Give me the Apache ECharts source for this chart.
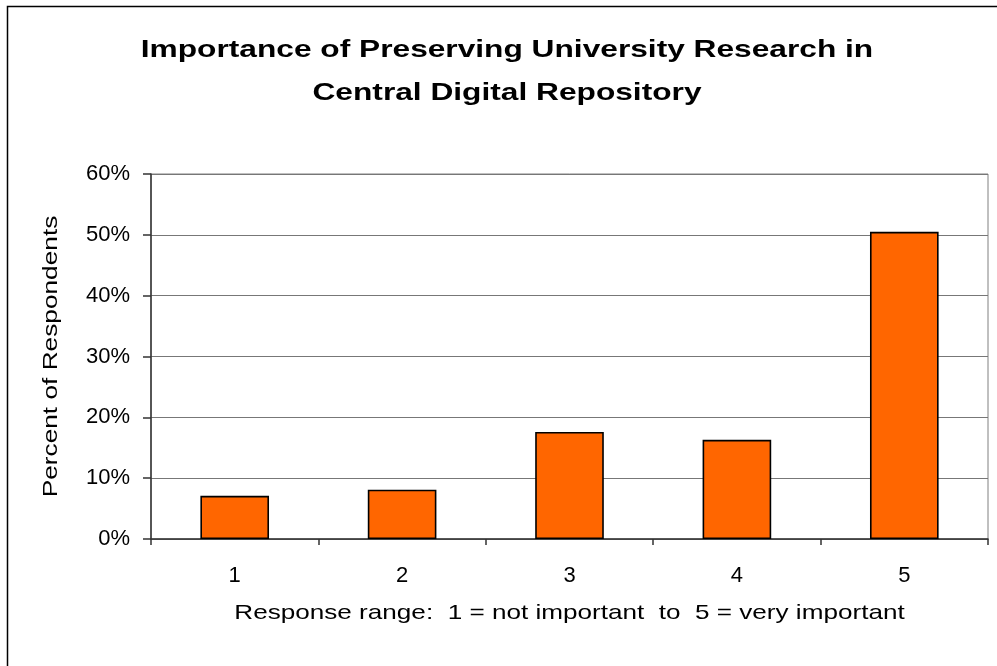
<!DOCTYPE html>
<html>
<head>
<meta charset="utf-8">
<script src="https://cdn.jsdelivr.net/npm/echarts@6/dist/echarts.min.js"></script>
<style>
  html, body { margin: 0; padding: 0; background: #fff; }
  #chart { width: 997px; height: 666px; }
</style>
</head>
<body>
<div id="chart"></div>
<script>
// Survey responses: importance rating 1–5
const categories = ['1', '2', '3', '4', '5'];
const percentRespondents = [7.1, 8.1, 17.6, 16.3, 50.5];
const yTicks = { min: 0, max: 60, interval: 10 };

const titleLines = ['Importance of Preserving University Research in', 'Central Digital Repository'];
const xAxisName = 'Response range:  1 = not important  to  5 = very important';
const yAxisName = 'Percent of Respondents';

const font = 'Arial, "Liberation Sans", sans-serif';

// Plot area box
const plot = { left: 151, right: 988, top: 174, bottom: 539 };
const W = 997, H = 666;

// Wide-set text, as in the original office-style chart
function wideText(text, x, y, size, weight, stretch, rotation) {
  return {
    type: 'text',
    x: x, y: y,
    rotation: rotation || 0,
    scaleX: stretch,
    silent: true,
    z: 10,
    style: {
      text: text,
      fill: '#000',
      font: weight + ' ' + size + 'px ' + font,
      align: 'center',
      verticalAlign: 'middle'
    }
  };
}

const chart = echarts.init(document.getElementById('chart'), null, { renderer: 'canvas' });

chart.setOption({
  backgroundColor: '#ffffff',
  animation: false,
  graphic: [
    {
      type: 'rect',
      shape: { x: 7.5, y: 6.5, width: 1100, height: 1100 },
      style: { fill: 'none', stroke: '#000', lineWidth: 1.5 },
      silent: true,
      z: 0
    },
    wideText(titleLines[0], 507, 50, 24, 'bold', 1.32),
    wideText(titleLines[1], 507, 93, 24, 'bold', 1.32),
    wideText(xAxisName, (plot.left + plot.right) / 2, 613, 21, 'normal', 1.243),
    wideText(yAxisName, 51, (plot.top + plot.bottom) / 2, 21, 'normal', 1.25, Math.PI / 2)
  ],
  grid: {
    left: plot.left,
    right: W - plot.right,
    top: plot.top,
    bottom: H - plot.bottom,
    show: true,
    borderColor: '#808080',
    borderWidth: 1,
    backgroundColor: 'transparent'
  },
  xAxis: {
    type: 'category',
    data: categories,
    axisLine: { show: true, lineStyle: { color: '#333', width: 1.5 } },
    axisTick: { show: true, length: 6, lineStyle: { color: '#333', width: 1.5 } },
    axisLabel: { margin: 26, fontFamily: font, fontSize: 22, color: '#000' },
    splitLine: { show: false }
  },
  yAxis: {
    type: 'value',
    min: yTicks.min,
    max: yTicks.max,
    interval: yTicks.interval,
    axisLine: { show: true, lineStyle: { color: '#333', width: 1.5 } },
    axisTick: { show: true, length: 8, lineStyle: { color: '#333', width: 1.5 } },
    axisLabel: {
      margin: 21,
      fontFamily: font,
      fontSize: 22,
      color: '#000',
      formatter: v => v + '%'
    },
    splitLine: { show: true, lineStyle: { color: '#777', width: 1.2 } }
  },
  series: [{
    type: 'bar',
    data: percentRespondents,
    barWidth: '41%',
    itemStyle: { color: '#FF6600', borderColor: '#000', borderWidth: 1.6 },
    emphasis: { disabled: true }
  }]
});
</script>
</body>
</html>
